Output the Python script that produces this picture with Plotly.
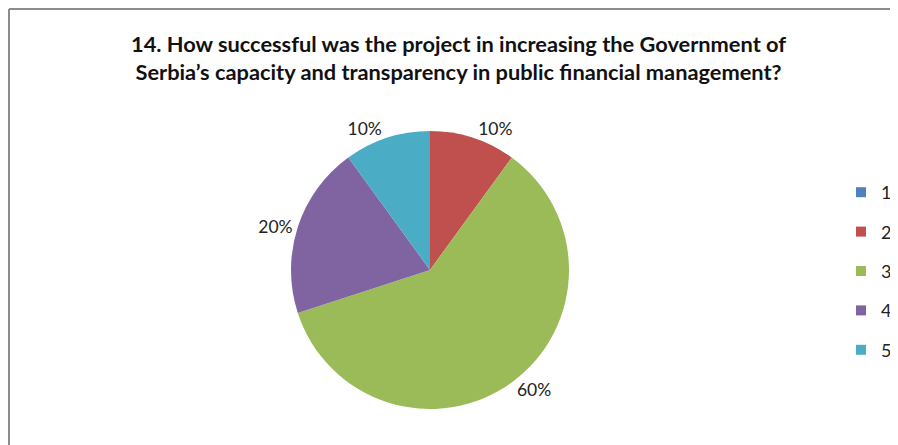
import plotly.graph_objs as go

# survey answers, share of respondents (%)
categories = ['1', '2', '3', '4', '5']
shares = [0, 10, 60, 20, 10]
colors = ['#4F81BD', '#C0504D', '#9BBB59', '#8064A2', '#4BACC6']
title_lines = ["14. How successful was the project in increasing the Government of",
               "Serbia\u2019s capacity and transparency in public financial management?"]

# page body keeps its default 8px margin, so the figure is 8px smaller
OFF = 8
W, H = 898 - OFF, 445 - OFF
cx, cy, rad = 430 - OFF, 270 - OFF, 139  # pie centre / radius in pixels


def px(x):
    return (x - OFF) / W


def py(y):
    return 1 - (y - OFF) / H


labels_txt = ['' if v == 0 else f'{v}%' for v in shares]

pie = go.Pie(
    labels=categories,
    values=shares,
    text=labels_txt,
    textinfo='text',
    textposition='outside',
    textfont=dict(family='Lato', size=17.5, color='#222'),
    marker=dict(colors=colors, line=dict(width=0)),
    sort=False,
    direction='clockwise',
    rotation=0,
    showlegend=False,
    hoverinfo='label+percent',
    domain=dict(x=[(cx - rad) / W, (cx + rad) / W],
                y=[1 - (cy + rad) / H, 1 - (cy - rad) / H]),
)

# legend entries (one group each, so they can be spaced like the original)
legend_traces = []
for lab, col in zip(categories, colors):
    legend_traces.append(go.Scatter(
        x=[None], y=[None], mode='markers',
        marker=dict(symbol='square', size=10, color=col),
        name=lab, legendgroup=lab, showlegend=True,
    ))

layout = go.Layout(
    width=W, height=H,
    margin=dict(l=0, r=0, t=0, b=0),
    paper_bgcolor='white',
    plot_bgcolor='white',
    xaxis=dict(visible=False),
    yaxis=dict(visible=False),
    font=dict(family='Lato', color='#222'),
    legend=dict(x=px(841), y=py(174), xanchor='left', yanchor='top',
                font=dict(size=18), tracegroupgap=13, itemwidth=30,
                bgcolor='rgba(0,0,0,0)'),
    annotations=[dict(
        text='<b>' + '<br>'.join(title_lines) + '</b>',
        x=px(459), y=py(58), xref='paper', yref='paper',
        xanchor='center', yanchor='middle', showarrow=False,
        font=dict(family='Lato', size=21.8, color='#111'),
    )],
    shapes=[
        dict(type='line', xref='paper', yref='paper',
             x0=px(9), x1=1.02, y0=py(9), y1=py(9),
             line=dict(color='#8c8c8c', width=2)),
        dict(type='line', xref='paper', yref='paper',
             x0=px(9), x1=px(9), y0=-0.05, y1=py(9),
             line=dict(color='#8c8c8c', width=2)),
    ],
)

fig = go.Figure(data=[pie] + legend_traces, layout=layout)
fig.write_html('out.html')
